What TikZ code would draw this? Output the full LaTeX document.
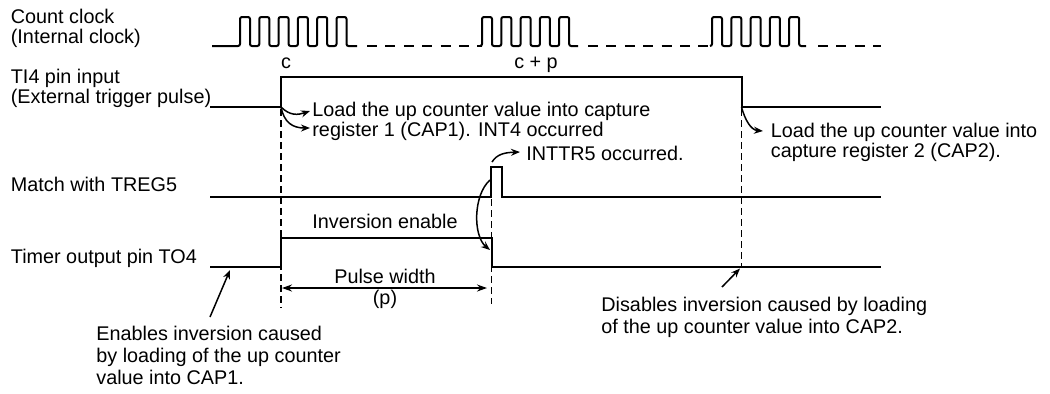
\documentclass[tikz,border=0pt]{standalone}
\usepackage{fontspec}
\setmainfont{Liberation Sans}
\usetikzlibrary{arrows.meta}
\newcommand{\mlines}[1]{\begin{tabular}[t]{@{}l@{}}#1\end{tabular}}
\begin{document}
\begin{tikzpicture}[x=0.5pt,y=-0.5pt,
  sig/.style={line width=1pt},
  guide/.style={line width=0.7pt,dash pattern=on 3.5pt off 2pt},
  clk/.style={line width=1pt, rounded corners=1pt},
  clkdash/.style={line width=1pt, dash pattern=on 5pt off 4.2pt},
  ann/.style={line width=0.75pt,-{Stealth[length=4.5pt,width=3.5pt]}},
  dim/.style={line width=0.75pt,{Stealth[length=5pt,width=3.5pt]}-{Stealth[length=5pt,width=3.5pt]}},
  txt/.style={inner sep=0pt, font=\fontsize{9.9pt}{10pt}\selectfont},
  txtw/.style={inner sep=0pt, font=\fontsize{9.9pt}{11pt}\selectfont},
]
\useasboundingbox (0,0) rectangle (1050,393);

% labels
\node[txt,anchor=base west] (lclk) at (10.5,23) {\mlines{Count clock\\(Internal clock)}};
\node[txt,anchor=base west] (lti) at (10.5,83.5) {\mlines{TI4 pin input\\(External trigger pulse)}};
\node[txt,anchor=base west] (lmatch) at (10.5,191) {Match with TREG5};
\node[txt,anchor=base west] (lto) at (10.5,263) {Timer output pin TO4};

\node[txt,anchor=base] (c) at (286,68.5) {c};
\node[txt,anchor=base] (cp) at (536,68.5) {c + p};
\node[txt,anchor=base west] (load1) at (312,116) {\mlines{Load the up counter value into capture\\register 1 (CAP1). INT4 occurred}};
\node[txt,anchor=base west] (inttr) at (526,160) {INTTR5 occurred.};
\node[txt,anchor=base west] (load2) at (770.5,137) {\mlines{Load the up counter value into\\capture register 2 (CAP2).}};
\node[txt,anchor=base] (inv) at (385,228) {Inversion enable};
\node[txt,anchor=base] (pw) at (385,283) {Pulse width};
\node[txt,anchor=base] (p) at (385,304) {(p)};
\node[txtw,anchor=base west] (en) at (96,340) {\mlines{Enables inversion caused\\by loading of the up counter\\value into CAP1.}};
\node[txtw,anchor=base west] (dis) at (601,311) {\mlines{Disables inversion caused by loading\\of the up counter value into CAP2.}};

% count clock
\draw[clk] (212,46) foreach \k in {0,...,5}{ -- ({240+\k*19.3},46) -- ({240+\k*19.3},17) -- ({250+\k*19.3},17) -- ({250+\k*19.3},46) } -- (357,46);
\draw[clkdash] (367,46) -- (482,46);
\draw[clk] (480,46) foreach \k in {0,...,4}{ -- ({482+\k*19.3},46) -- ({482+\k*19.3},17) -- ({492+\k*19.3},17) -- ({492+\k*19.3},46) } -- (578,46);
\draw[clkdash] (588,46) -- (712,46);
\draw[clk] (710,46) foreach \k in {0,...,4}{ -- ({712+\k*19.3},46) -- ({712+\k*19.3},17) -- ({722+\k*19.3},17) -- ({722+\k*19.3},46) } -- (806,46);
\draw[clkdash] (818,46) -- (881,46);

% TI4
\draw[sig] (210,107) -- (281,107) -- (281,77) -- (741.5,77) -- (741.5,107) -- (881,107);
% match
\draw[sig] (210,197) -- (491,197) -- (491,167) -- (502,167) -- (502,197) -- (881,197);
% TO4
\draw[sig] (210,267) -- (281,267) -- (281,238) -- (491.5,238) -- (491.5,267) -- (881,267);

% guides
\draw[guide] (281,109) -- (281,308);
\draw[guide] (491.5,199) -- (491.5,304);
\draw[guide] (741.5,109) -- (741.5,267);

% coordinates
\coordinate (tiup) at (281,107);
\coordinate (a1) at (310,111);
\coordinate (a2) at (310,128);
\coordinate (sp) at (492,162);
\coordinate (a3) at (520,152);
\coordinate (sp2) at (490,180);
\coordinate (tofall) at (490,250);
\coordinate (tidn) at (741.5,107);
\coordinate (a4) at (763,131);
\coordinate (en0) at (210,317);
\coordinate (en1) at (230,270);
\coordinate (dis0) at (722,287);
\coordinate (dis1) at (740,268.5);
\coordinate (pwl) at (282,288);
\coordinate (pwr) at (487,288);

% annotations
\draw[ann] (tiup) .. controls (290,116) and (298,115) .. (a1);
\draw[ann] (tiup) .. controls (284,122) and (292,128) .. (a2);
\draw[ann] (sp) .. controls (497,154) and (505,152.5) .. (a3);
\draw[ann] (sp2) .. controls (473,195) and (473,236) .. (tofall);
\draw[ann] (tidn) .. controls (745,120) and (751,130) .. (a4);
\draw[ann] (en0) -- (en1);
\draw[ann] (dis0) -- (dis1);
\draw[dim] (pwl) -- (pwr);
\end{tikzpicture}
\end{document}
